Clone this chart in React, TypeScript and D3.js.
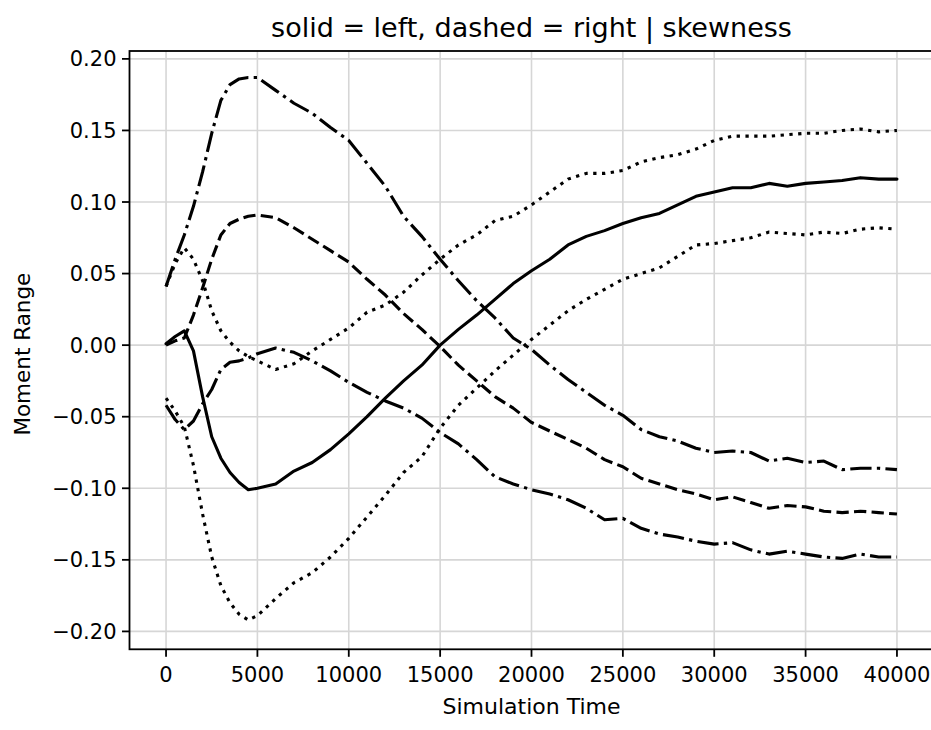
import React, { useEffect, useRef } from 'react';
import * as d3 from 'd3';

// simulation time samples (finer at the start where the curves turn quickly)
const timeSteps = [
  0, 500, 1000, 1500, 2000, 2500, 3000, 3500, 4000, 4500, 5000,
  6000, 7000, 8000, 9000, 10000, 11000, 12000, 13000, 14000, 15000,
  16000, 17000, 18000, 19000, 20000, 21000, 22000, 23000, 24000, 25000,
  26000, 27000, 28000, 29000, 30000, 31000, 32000, 33000, 34000, 35000,
  36000, 37000, 38000, 39000, 40000,
];

const solidLine = [
  0.001, 0.006, 0.010, -0.004, -0.036, -0.064, -0.079, -0.089, -0.096, -0.101, -0.100,
  -0.097, -0.088, -0.082, -0.073, -0.062, -0.050, -0.037, -0.025, -0.014, 0.000,
  0.011, 0.021, 0.032, 0.043, 0.052, 0.060, 0.070, 0.076, 0.080, 0.085,
  0.089, 0.092, 0.098, 0.104, 0.107, 0.110, 0.110, 0.113, 0.111, 0.113,
  0.114, 0.115, 0.117, 0.116, 0.116,
];

const dashedLine = [
  0.000, 0.003, 0.005, 0.021, 0.040, 0.060, 0.077, 0.085, 0.088, 0.090, 0.091,
  0.089, 0.082, 0.074, 0.066, 0.058, 0.046, 0.035, 0.022, 0.011, -0.001,
  -0.014, -0.025, -0.036, -0.044, -0.054, -0.060, -0.066, -0.072, -0.080, -0.085,
  -0.093, -0.097, -0.101, -0.104, -0.108, -0.106, -0.110, -0.114, -0.112, -0.113,
  -0.116, -0.117, -0.116, -0.117, -0.118,
];

const upperDashDot = [
  0.041, 0.060, 0.077, 0.097, 0.121, 0.148, 0.171, 0.182, 0.186, 0.187, 0.187,
  0.178, 0.169, 0.162, 0.152, 0.143, 0.127, 0.111, 0.090, 0.076, 0.060,
  0.045, 0.031, 0.019, 0.005, -0.003, -0.014, -0.024, -0.033, -0.042, -0.049,
  -0.059, -0.064, -0.067, -0.072, -0.075, -0.074, -0.075, -0.081, -0.079, -0.082,
  -0.081, -0.087, -0.086, -0.086, -0.087,
];

const lowerDashDot = [
  -0.042, -0.052, -0.059, -0.053, -0.041, -0.031, -0.017, -0.012, -0.011, -0.009, -0.006,
  -0.002, -0.005, -0.011, -0.018, -0.026, -0.033, -0.039, -0.044, -0.051, -0.061,
  -0.069, -0.080, -0.092, -0.097, -0.101, -0.104, -0.108, -0.114, -0.122, -0.121,
  -0.128, -0.132, -0.134, -0.137, -0.139, -0.138, -0.143, -0.146, -0.144, -0.146,
  -0.148, -0.149, -0.146, -0.148, -0.148,
];

const upperDotted = [
  0.041, 0.057, 0.068, 0.060, 0.045, 0.024, 0.010, 0.002, -0.004, -0.008, -0.011,
  -0.017, -0.013, -0.004, 0.004, 0.012, 0.023, 0.028, 0.037, 0.049, 0.060,
  0.070, 0.077, 0.087, 0.090, 0.098, 0.107, 0.116, 0.120, 0.120, 0.122,
  0.128, 0.131, 0.133, 0.137, 0.143, 0.146, 0.146, 0.146, 0.147, 0.148,
  0.148, 0.150, 0.151, 0.149, 0.150,
];

const lowerDotted = [
  -0.037, -0.046, -0.057, -0.084, -0.118, -0.148, -0.168, -0.180, -0.188, -0.192, -0.189,
  -0.177, -0.166, -0.159, -0.148, -0.135, -0.120, -0.105, -0.089, -0.078, -0.058,
  -0.042, -0.030, -0.018, -0.007, 0.004, 0.014, 0.024, 0.032, 0.039, 0.046,
  0.050, 0.054, 0.062, 0.070, 0.071, 0.073, 0.075, 0.079, 0.078, 0.077,
  0.079, 0.078, 0.081, 0.082, 0.081,
];

const xTicks = [0, 5000, 10000, 15000, 20000, 25000, 30000, 35000, 40000];
const yTicks = [-0.2, -0.15, -0.1, -0.05, 0, 0.05, 0.1, 0.15, 0.2];

const App: React.FC = () => {
  const svgRef = useRef<SVGSVGElement | null>(null);

  useEffect(() => {
    document.body.style.margin = '0';
    const svg = d3.select(svgRef.current);
    svg.selectAll('*').remove();

    const W = 931;
    const H = 730;
    // axes box (right spine falls just outside the picture, as in the original)
    const left = 129.5, right = 933.5, top = 51, bottom = 649.3;
    const font = 'DejaVu Sans, sans-serif';

    const x = d3.scaleLinear().domain([-2000, 42000]).range([left, right]);
    const y = d3.scaleLinear().domain([-0.2125, 0.2055]).range([bottom, top]);

    svg.attr('width', W).attr('height', H);
    svg.append('rect').attr('width', W).attr('height', H).attr('fill', '#fff');

    // grid
    const grid = svg.append('g').attr('stroke', '#d6d6d6').attr('stroke-width', 1.6);
    xTicks.forEach(t => {
      grid.append('line').attr('x1', x(t)).attr('x2', x(t)).attr('y1', top).attr('y2', bottom);
    });
    yTicks.forEach(t => {
      grid.append('line').attr('x1', left).attr('x2', right).attr('y1', y(t)).attr('y2', y(t));
    });

    // series
    const series: { values: number[]; dash: string | null }[] = [
      { values: solidLine, dash: null },
      { values: dashedLine, dash: '12.3,5.3' },
      { values: upperDashDot, dash: '21.3,5.3,3.3,5.3' },
      { values: lowerDashDot, dash: '21.3,5.3,3.3,5.3' },
      { values: upperDotted, dash: '3.3,5.5' },
      { values: lowerDotted, dash: '3.3,5.5' },
    ];

    const line = d3
      .line<number>()
      .x((_, i) => x(timeSteps[i]))
      .y(d => y(d));

    series.forEach(s => {
      const p = svg
        .append('path')
        .datum(s.values)
        .attr('fill', 'none')
        .attr('stroke', '#000')
        .attr('stroke-width', 3.1)
        .attr('stroke-linejoin', 'round')
        .attr('stroke-linecap', s.dash ? 'butt' : 'round')
        .attr('d', line);
      if (s.dash) p.attr('stroke-dasharray', s.dash);
    });

    // frame
    svg
      .append('rect')
      .attr('x', left)
      .attr('y', top)
      .attr('width', right - left)
      .attr('height', bottom - top)
      .attr('fill', 'none')
      .attr('stroke', '#000')
      .attr('stroke-width', 1.8);

    // x axis ticks and labels
    const xAxis = svg.append('g');
    xTicks.forEach(t => {
      xAxis.append('line')
        .attr('x1', x(t)).attr('x2', x(t))
        .attr('y1', bottom).attr('y2', bottom + 7.5)
        .attr('stroke', '#000').attr('stroke-width', 1.8);
      xAxis.append('text')
        .attr('x', x(t)).attr('y', 682)
        .attr('text-anchor', 'middle')
        .attr('font-family', font).attr('font-size', 21)
        .text(String(t));
    });

    // y axis ticks and labels
    const fmt = d3.format('.2f');
    const yAxis = svg.append('g');
    yTicks.forEach(t => {
      yAxis.append('line')
        .attr('x1', left - 7.5).attr('x2', left)
        .attr('y1', y(t)).attr('y2', y(t))
        .attr('stroke', '#000').attr('stroke-width', 1.8);
      yAxis.append('text')
        .attr('x', left - 13).attr('y', y(t))
        .attr('dy', '0.36em')
        .attr('text-anchor', 'end')
        .attr('font-family', font).attr('font-size', 21)
        .text(fmt(t).replace('-', '\u2212'));
    });

    // axis labels and title
    svg.append('text')
      .attr('x', (left + right) / 2).attr('y', 714)
      .attr('text-anchor', 'middle')
      .attr('font-family', font).attr('font-size', 22)
      .text('Simulation Time');

    svg.append('text')
      .attr('transform', `translate(30,${(top + bottom) / 2 + 4}) rotate(-90)`)
      .attr('text-anchor', 'middle')
      .attr('font-family', font).attr('font-size', 21.5)
      .text('Moment Range');

    svg.append('text')
      .attr('x', (left + right) / 2).attr('y', 37)
      .attr('text-anchor', 'middle')
      .attr('font-family', font).attr('font-size', 27)
      .text('solid = left, dashed = right | skewness');
  }, []);

  return <svg ref={svgRef} style={{ display: 'block' }}></svg>;
};

export default App;
